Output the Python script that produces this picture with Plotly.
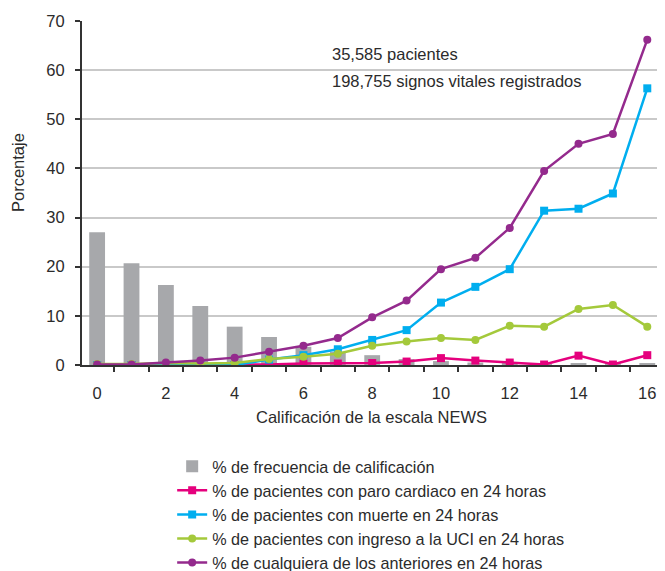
import plotly.graph_objects as go

scores = list(range(17))
tick_labels = ["0", "2", "4", "6", "8", "10", "12", "14", "16"]
tick_positions = [0, 2, 4, 6, 8, 10, 12, 14, 16]
freq = [27.0, 20.7, 16.3, 12.0, 7.8, 5.7, 3.7, 2.7, 2.0, 1.2, 0.8, 0.5, 0.3, 0.2, 0.4, 0.3, 0.3]
cardiac = [0, 0, 0, 0, 0, 0.1, 0.3, 0.3, 0.4, 0.7, 1.4, 0.9, 0.5, 0.1, 1.9, 0.1, 2.0]
death = [0, 0, 0, 0, 0, 1.1, 2.0, 3.2, 5.1, 7.1, 12.7, 15.9, 19.5, 31.4, 31.8, 34.9, 56.3]
icu = [0.2, 0.2, 0.4, 0.3, 0.4, 1.2, 1.7, 2.3, 3.9, 4.8, 5.5, 5.1, 8.0, 7.8, 11.4, 12.2, 7.8]
anyev = [0.1, 0.1, 0.5, 0.9, 1.5, 2.7, 3.9, 5.5, 9.7, 13.1, 19.5, 21.8, 27.9, 39.5, 45.0, 47.0, 66.2]

names = [
    "% de frecuencia de calificación",
    "% de pacientes con paro cardiaco en 24 horas",
    "% de pacientes con muerte en 24 horas",
    "% de pacientes con ingreso a la UCI en 24 horas",
    "% de cualquiera de los anteriores en 24 horas",
]

FONT = "Liberation Sans, Arial, Helvetica, sans-serif"
TXT = "#2b2b2b"

fig = go.Figure()
fig.add_trace(go.Bar(x=scores, y=freq, name=names[0], width=0.46,
                     marker=dict(color="#a7a8ab", line=dict(width=0))))
fig.add_trace(go.Scatter(x=scores, y=cardiac, name=names[1], mode="lines+markers",
                         line=dict(color="#e5007d", width=2.5),
                         marker=dict(symbol="square", size=8, color="#e5007d")))
fig.add_trace(go.Scatter(x=scores, y=death, name=names[2], mode="lines+markers",
                         line=dict(color="#00aeef", width=2.5),
                         marker=dict(symbol="square", size=8, color="#00aeef")))
fig.add_trace(go.Scatter(x=scores, y=icu, name=names[3], mode="lines+markers",
                         line=dict(color="#a4c93b", width=2.5),
                         marker=dict(symbol="circle", size=8, color="#a4c93b")))
fig.add_trace(go.Scatter(x=scores, y=anyev, name=names[4], mode="lines+markers",
                         line=dict(color="#942a8d", width=2.5),
                         marker=dict(symbol="circle", size=8, color="#942a8d")))

# page body has an 8px default margin, so the figure is 8px smaller and offset
fig.update_layout(
    width=657, height=563,
    margin=dict(l=74, r=5, t=13, b=206, autoexpand=False),
    paper_bgcolor="white", plot_bgcolor="white",
    font=dict(family=FONT, size=16, color=TXT),
    showlegend=True,
    legend=dict(x=0.156, xanchor="left", y=-0.245, yanchor="top",
                font=dict(size=16.2, color=TXT), traceorder="normal",
                bgcolor="rgba(0,0,0,0)"),
    xaxis=dict(range=[-0.44, 16.37], tickmode="array", tickvals=tick_positions,
               ticktext=tick_labels, ticks="outside", ticklen=12,
               tickcolor="rgba(0,0,0,0)", showgrid=False, zeroline=False,
               showline=True, linecolor="#333333", linewidth=2,
               automargin=False,
               tickfont=dict(size=16.5, color=TXT),
               minor=dict(tickmode="array",
                          tickvals=[i + 0.5 for i in range(16)],
                          ticks="outside", ticklen=5, tickcolor="#333333",
                          tickwidth=1.5, showgrid=False)),
    yaxis=dict(range=[0, 70], dtick=10, ticks="outside", ticklen=5,
               tickcolor="#333333", tickwidth=1.5, showgrid=True,
               gridcolor="#c9c9c9", gridwidth=1.5, zeroline=False,
               showline=True, linecolor="#333333", linewidth=2,
               automargin=False,
               tickfont=dict(size=16.5, color=TXT), ticklabelstandoff=7),
    annotations=[
        dict(text="Calificación de la escala NEWS", xref="paper", yref="paper",
             x=0.5, y=0, yshift=-52, xanchor="center", yanchor="middle",
             showarrow=False, font=dict(size=16.5, color=TXT)),
        dict(text="Porcentaje", xref="paper", yref="paper", x=0, xshift=-64,
             y=0.558, xanchor="center", yanchor="middle", textangle=-90,
             showarrow=False, font=dict(size=16.5, color=TXT)),
        dict(text="35,585 pacientes", xref="x", yref="y", x=6.78, y=63.3,
             xanchor="left", yanchor="middle", showarrow=False,
             font=dict(size=16.5, color=TXT)),
        dict(text="198,755 signos vitales registrados", xref="x", yref="y",
             x=6.78, y=57.8, xanchor="left", yanchor="middle", showarrow=False,
             font=dict(size=16.5, color=TXT)),
    ],
)

fig.write_html("out.html")
